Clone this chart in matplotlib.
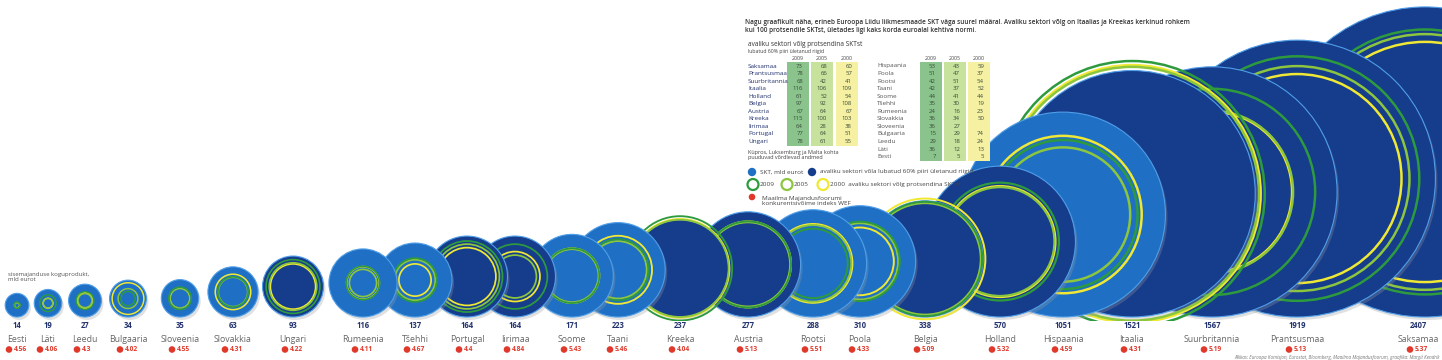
import matplotlib
matplotlib.use("Agg")
import matplotlib.pyplot as plt
from matplotlib.patches import Circle, Rectangle
import numpy as np

plt.rcParams['font.family'] = ['Open Sans', 'DejaVu Sans']

# data: countries left to right (ascending GDP)
countries = ["Eesti", "Läti", "Leedu", "Bulgaaria", "Sloveenia", "Slovakkia", "Ungari",
             "Rumeenia", "Tšehhi", "Portugal", "Iirimaa", "Soome", "Taani", "Kreeka",
             "Austria", "Rootsi", "Poola", "Belgia", "Holland", "Hispaania", "Itaalia",
             "Suurbritannia", "Prantsusmaa", "Saksamaa"]
gdp = [14, 19, 27, 34, 35, 63, 93, 116, 137, 164, 164, 171, 223, 237,
       277, 288, 310, 338, 570, 1051, 1521, 1567, 1919, 2407]
wef = [4.56, 4.06, 4.30, 4.02, 4.55, 4.31, 4.22, 4.11, 4.67, 4.40, 4.84, 5.43, 5.46, 4.04,
       5.13, 5.51, 4.33, 5.09, 5.32, 4.59, 4.31, 5.19, 5.13, 5.37]
debt_2009 = [7, 36, 29, 15, 36, 36, 78, 24, 35, 77, 64, 44, 42, 115,
             67, 42, 51, 97, 61, 53, 116, 68, 78, 73]
debt_2005 = [5, 12, 18, 29, 27, 34, 61, 16, 30, 64, 28, 41, 37, 100,
             64, 51, 47, 92, 52, 43, 106, 42, 66, 68]
debt_2000 = [5, 13, 24, 74, np.nan, 50, 55, 23, 19, 51, 38, 44, 52, 103,
             67, 54, 37, 108, 54, 59, 109, 41, 57, 60]
years = ["2009", "2005", "2000"]
limit = 60

# layout
x_centers = [17, 48, 85, 128, 180, 233, 293, 363, 415, 467, 515, 572, 618, 680,
             748, 813, 860, 925, 1000, 1063, 1132, 1212, 1297, 1425]
base_y = 317
k = 3.16

c_light = '#1f70c4'
c_dark = '#163c8c'
c_edge = '#4f9ee8'
c_2009 = '#2e9a3e'
c_2005 = '#8cc63f'
c_2000 = '#efe834'
navy = '#23336e'
gray = '#666666'
red = '#e0392b'
txt = '#444444'

fig = plt.figure(figsize=(14.42, 3.6), dpi=100)
ax = fig.add_axes([0, 0, 1, 1])
ax.set_xlim(0, 1442)
ax.set_ylim(360, 0)
ax.set_aspect('equal')
ax.axis('off')

# keep rings above the label rows
clip = Rectangle((0, 0), 1442, base_y + 4, transform=ax.transData)

n = len(countries)
for i in range(n - 1, -1, -1):
    R = k * np.sqrt(gdp[i])
    cx = x_centers[i]
    cy = base_y - R
    z = (n - i) * 10
    ax.add_patch(Circle((cx + 2, cy + 3), R, color='#9a9a9a', alpha=0.3, lw=0, zorder=z))
    fill = c_dark if debt_2009[i] > limit else c_light
    ax.add_patch(Circle((cx, cy), R, facecolor=fill, edgecolor=c_edge, lw=0.8, zorder=z + 1))
    lw = min(1.8, 0.9 + R / 110)
    for vals, col, dz in [(debt_2000, c_2000, 2), (debt_2005, c_2005, 3), (debt_2009, c_2009, 4)]:
        v = vals[i]
        if np.isnan(v):
            continue
        r = R * np.sqrt(v / 100)
        ring = ax.add_patch(Circle((cx, cy), r, fill=False, edgecolor=col, lw=lw, zorder=z + dz))
        ring.set_clip_path(clip)

    lx = min(cx, 1418)
    ax.text(lx, 326, str(gdp[i]), ha='center', va='center', fontsize=5.5,
            fontweight='bold', color=navy, zorder=2000)
    ax.text(lx, 339, countries[i], ha='center', va='center', fontsize=6.3,
            color=gray, zorder=2000)
    ax.add_patch(Circle((lx - 8, 349.5), 3.3, color=red, lw=0, zorder=2000))
    ax.text(lx - 3.5, 349.5, f"{wef[i]:g}", ha='left', va='center', fontsize=4.8,
            color=red, fontweight='bold', zorder=2000)

ax.text(8, 272, "sisemajanduse koguprodukt,\nmld eurot", ha='left', va='top',
        fontsize=4.3, color='#555555', linespacing=1.0, zorder=2000)

# top paragraph
ax.text(745, 22, "Nagu graafikult näha, erineb Euroopa Liidu liikmesmaade SKT väga suurel määral. "
        "Avaliku sektori võlg on Itaalias ja Kreekas kerkinud rohkem",
        ha='left', va='center', fontsize=4.7, color='#333333', fontweight='semibold', zorder=2000)
ax.text(745, 30.5, "kui 100 protsendile SKTst, ületades ligi kaks korda euroalal kehtiva normi.",
        ha='left', va='center', fontsize=4.7, color='#333333', fontweight='semibold', zorder=2000)

# table
ax.text(748, 45, "avaliku sektori võlg protsendina SKTst", ha='left', va='center',
        fontsize=4.7, color='#333333', zorder=2000)
ax.text(748, 52, "lubatud 60% piiri ületanud riigid", ha='left', va='center',
        fontsize=3.7, color=txt, zorder=2000)

order = sorted(range(n), key=lambda j: (-gdp[j], -j))
over = [j for j in order if debt_2009[j] > limit]
under = [j for j in order if debt_2009[j] <= limit]
col_colors = ['#8ac48c', '#c7e29c', '#f6f1a2']
row_h = 7.55
for idxs, name_x, col_x, name_col in [(over, 748, [798, 822, 847], navy),
                                      (under, 877, [931, 955, 979], '#555555')]:
    top = 62
    bottom = 66 + row_h * (len(idxs) - 1) + 4
    for cxx, cc, yr in zip(col_x, col_colors, years):
        ax.add_patch(Rectangle((cxx - 11, top), 22, bottom - top, color=cc, lw=0, zorder=1500))
        ax.text(cxx, 58, yr, ha='center', va='center', fontsize=3.8, color=txt, zorder=2000)
    for r_i, j in enumerate(idxs):
        y = 66 + row_h * r_i
        ax.text(name_x, y, countries[j], ha='left', va='center', fontsize=4.6,
                color=name_col, zorder=2000)
        for cxx, vals in zip(col_x, [debt_2009, debt_2005, debt_2000]):
            v = vals[j]
            if np.isnan(v):
                continue
            ax.text(cxx + 5, y, f"{v:.0f}", ha='right', va='center', fontsize=4.3,
                    color='#3a4a3a', zorder=2000)

ax.text(748, 155, "Küpros, Luksemburg ja Malta kohta\npuuduvad võrdlevad andmed",
        ha='left', va='center', fontsize=4.0, color=txt, linespacing=1.1, zorder=2000)

# legend
ax.add_patch(Circle((752, 172), 4.2, color=c_light, lw=0, zorder=2000))
ax.text(760, 172, "SKT, mld eurot", ha='left', va='center', fontsize=4.6, color=txt, zorder=2000)
ax.add_patch(Circle((812, 172), 4.2, color=c_dark, lw=0, zorder=2000))
ax.text(820, 172, "avaliku sektori võla lubatud 60% piiri ületanud riigid", ha='left',
        va='center', fontsize=4.6, color=txt, zorder=2000)
for xx, col, lab in [(753, c_2009, "2009"), (787, c_2005, "2005")]:
    ax.add_patch(Circle((xx, 184.5), 5.5, fill=False, edgecolor=col, lw=1.6, zorder=2000))
    ax.text(xx + 7, 184.5, lab, ha='left', va='center', fontsize=4.6, color=txt, zorder=2000)
ax.add_patch(Circle((823, 184.5), 5.5, fill=False, edgecolor=c_2000, lw=1.6, zorder=2000))
ax.text(830, 184.5, "2000  avaliku sektori võlg protsendina SKTst", ha='left', va='center',
        fontsize=4.6, color=txt, zorder=2000)
ax.add_patch(Circle((752, 197), 3.3, color=red, lw=0, zorder=2000))
ax.text(762, 201, "Maailma Majandusfoorumi\nkonkurentsivõime indeks WEF", ha='left',
        va='center', fontsize=4.6, color=txt, linespacing=1.1, zorder=2000)

ax.text(1440, 357, "Allikas: Euroopa Komisjon, Eurostat, Bloomberg, Maailma Majandusfoorum, "
        "graafika: Margit Kendrik", ha='right', va='center', fontsize=3.3,
        color='#777777', style='italic', zorder=2000)

fig.savefig("out.png", dpi=100)
